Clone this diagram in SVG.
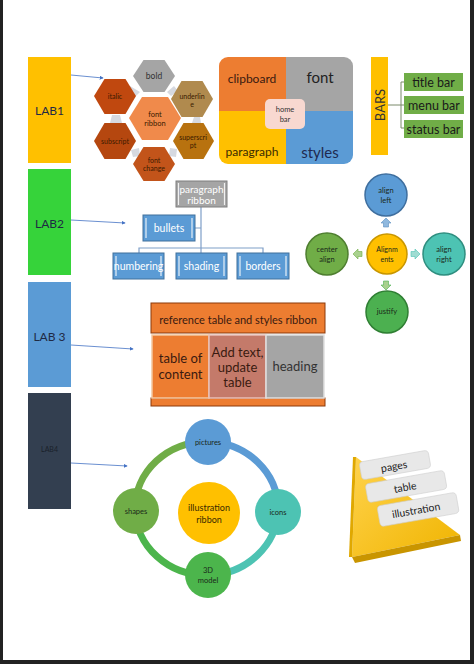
<svg xmlns="http://www.w3.org/2000/svg" width="474" height="664" viewBox="0 0 474 664">
<defs>
<style>
text{font-family:Lato,"Open Sans","Liberation Sans",sans-serif;text-anchor:middle;dominant-baseline:central}
.lab{font-size:12px;fill:#1f2a44}
.hx{font-size:7px;fill:#3a1a00}
.wb{fill:#5b9bd5;stroke:#41719c;stroke-width:1}
.wt{font-size:10.5px;fill:#fff}
.edge{stroke:#fff;stroke-width:1.2;opacity:.85}
.conn{stroke:#4472c4;stroke-width:.8;fill:none}
.tree{stroke:#7f9fc8;stroke-width:1.2;fill:none}
.gb{fill:#70ad47}
.gt{font-size:12.5px;fill:#1a1a1a}
.ct{font-size:7.5px;fill:#1a2a1a}
.cell{stroke:#8c3a0a;stroke-width:1}
.tt{font-size:13px;fill:#3a1a10}
.lbl{fill:#e8e8e8;stroke:#cfcfcf;stroke-width:.6}
.pt{font-size:10.5px;fill:#222}
</style>
<marker id="ah" viewBox="0 0 6 6" refX="5" refY="3" markerWidth="5" markerHeight="5" orient="auto"><path d="M0,0L6,3L0,6z" fill="#4472c4"/></marker>
<linearGradient id="pyr" x1="0" y1="0" x2="1" y2="1"><stop offset="0" stop-color="#ffd34d"/><stop offset="1" stop-color="#f0b400"/></linearGradient>
</defs>
<rect width="474" height="664" fill="#fff"/>
<rect x="0" y="0" width="3" height="664" fill="#222"/>
<rect x="470" y="0" width="4" height="664" fill="#222"/>
<rect x="0" y="660" width="474" height="4" fill="#222"/>

<g id="connectors">
<path class="conn" d="M71,75L103,78" marker-end="url(#ah)"/>
<path class="conn" d="M71,220L125,223" marker-end="url(#ah)"/>
<path class="conn" d="M71,345L133,349" marker-end="url(#ah)"/>
<path class="conn" d="M71,463L127,466" marker-end="url(#ah)"/>
<path class="tree" d="M201,207V248M139,253V248H263V253M201,248V253M195,228H201"/>
<path d="M388,105H401M405,82H401V128H405M401,105H404" stroke="#7a8a6a" stroke-width="1" fill="none"/>
</g>

<g id="lab1"><rect x="28" y="57" width="43" height="106" fill="#ffc000"/><text class="lab" x="49.5" y="110">LAB1</text></g>
<g id="lab2"><rect x="28" y="169" width="43" height="106" fill="#36d33a"/><text class="lab" x="49.5" y="223">LAB2</text></g>
<g id="lab3"><rect x="28" y="282" width="43" height="105" fill="#5b9bd5"/><text class="lab" x="49.5" y="336">LAB 3</text></g>
<g id="lab4"><rect x="28" y="393" width="43" height="116" fill="#333f50"/><text x="49.5" y="449" style="font-size:7px;fill:#1a1f2a">LAB4</text></g>

<g id="hexes">
<path d="M130,86L140,92L136,96L128,91z" fill="#d6d9e0"/>
<path d="M174,86L167,92L171,96L178,91z" fill="#d6d9e0"/>
<path d="M112,115L120,115L122,123L110,123z" fill="#d6d9e0"/>
<path d="M194,117L200,117L201,123L192,123z" fill="#d6d9e0"/>
<path d="M131,150L139,148L140,156L133,157z" fill="#d6d9e0"/>
<path d="M177,149L170,148L169,156L176,157z" fill="#d6d9e0"/>
</g>
<g id="bold"><path d="M133,76L143.5,60H164.5L175,76L164.5,92H143.5z" fill="#a5a5a5"/><text x="154" y="76" style="font-size:8.5px;fill:#333">bold</text></g>
<g id="italic"><path d="M94,96L104.5,79H125.5L136,96L125.5,114H104.5z" fill="#c0480f"/><text class="hx" x="115" y="96">italic</text></g>
<g id="underline"><path d="M171,99L181.5,81H202.5L213,99L202.5,117H181.5z" fill="#b08a4e"/><text class="hx" x="192" y="96">underlin</text><text class="hx" x="192" y="104">e</text></g>
<g id="font-ribbon"><path d="M129,118L142,97H168L181,118L168,140H142z" fill="#f08a4b"/><text x="155" y="114" style="font-size:7.5px;fill:#3a1a00">font</text><text x="155" y="123" style="font-size:7.5px;fill:#3a1a00">ribbon</text></g>
<g id="subscript"><path d="M94,141L104.5,123H125.5L136,141L125.5,159H104.5z" fill="#b5470f"/><text class="hx" x="115" y="141">subscript</text></g>
<g id="superscript"><path d="M173,141L183.5,123H203.5L214,141L203.5,159H183.5z" fill="#b8720f"/><text class="hx" x="193" y="137">superscri</text><text class="hx" x="193" y="145">pt</text></g>
<g id="font-change"><path d="M133,164L143.5,147H164.5L175,164L164.5,181H143.5z" fill="#c2541a"/><text class="hx" x="154" y="160">font</text><text class="hx" x="154" y="168">change</text></g>

<g id="home-bar">
<path d="M228,57H286V111H219V66A9,9 0 0 1 228,57z" fill="#ed7d31"/>
<path d="M286,57H344A9,9 0 0 1 353,66V111H286z" fill="#a5a5a5"/>
<path d="M219,111H286V164H228A9,9 0 0 1 219,155z" fill="#ffc000"/>
<path d="M286,111H353V155A9,9 0 0 1 344,164H286z" fill="#5b9bd5"/>
<text x="252" y="78" style="font-size:12px;fill:#3a1a10">clipboard</text>
<text x="320" y="77" style="font-size:15px;fill:#222">font</text>
<text x="252" y="151" style="font-size:12px;fill:#3a2a00">paragraph</text>
<text x="320" y="152" style="font-size:15px;fill:#1f2a50">styles</text>
<rect x="265" y="99" width="40" height="30" rx="5" fill="#f8d8d0"/>
<text x="285" y="109" style="font-size:7.5px;fill:#333">home</text>
<text x="285" y="119" style="font-size:7.5px;fill:#333">bar</text>
</g>

<g id="bars"><rect x="371" y="57" width="17" height="98" fill="#ffc000"/><text transform="translate(380,105) rotate(-90)" style="font-size:13px;fill:#333">BARS</text></g>
<g id="title-bar"><rect class="gb" x="404" y="73" width="59" height="18"/><text class="gt" x="433.5" y="82">title bar</text></g>
<g id="menu-bar"><rect class="gb" x="404" y="96" width="60" height="18"/><text class="gt" x="434" y="105">menu bar</text></g>
<g id="status-bar"><rect class="gb" x="404" y="120" width="59" height="18"/><text class="gt" x="433.5" y="129">status bar</text></g>

<g id="paragraph-ribbon"><rect x="176" y="181" width="51" height="26" fill="#a5a5a5" stroke="#7f7f7f"/><path class="edge" d="M178.5,183V205M224.5,183V205"/><text class="wt" x="201.5" y="189" style="font-size:10px">paragraph</text><text class="wt" x="201.5" y="200" style="font-size:10px">ribbon</text></g>
<g id="bullets"><rect class="wb" x="143" y="215" width="52" height="26"/><path class="edge" d="M146,218V238M192,218V238"/><text class="wt" x="169" y="228">bullets</text></g>
<g id="numbering"><rect class="wb" x="113" y="253" width="51" height="26"/><path class="edge" d="M116,256V276M161,256V276"/><text class="wt" x="138.5" y="266">numbering</text></g>
<g id="shading"><rect class="wb" x="176" y="253" width="51" height="26"/><path class="edge" d="M179,256V276M224,256V276"/><text class="wt" x="201.5" y="266">shading</text></g>
<g id="borders"><rect class="wb" x="237" y="253" width="52" height="26"/><path class="edge" d="M240,256V276M286,256V276"/><text class="wt" x="263" y="266">borders</text></g>

<g id="align-arrows">
<path d="M386,218L381,223H383.5V227H388.5V223H391z" fill="#8fb8de" stroke="#5b8fbf" stroke-width=".6"/>
<path d="M353,254L358,249V251.5H362V256.5H358V259z" fill="#a9d18e" stroke="#70ad47" stroke-width=".6"/>
<path d="M420,254L415,249V251.5H411V256.5H415V259z" fill="#9fdcd2" stroke="#4dc3b3" stroke-width=".6"/>
<path d="M386,290L381,285H383.5V281H388.5V285H391z" fill="#a9d18e" stroke="#4cb050" stroke-width=".6"/>
</g>
<g id="align-left"><circle cx="386" cy="195" r="21" fill="#5b9bd5" stroke="#3f6f9f" stroke-width="1.5"/><text class="ct" x="386" y="190">align</text><text class="ct" x="386" y="200">left</text></g>
<g id="center-align"><circle cx="327" cy="254" r="21" fill="#70ad47" stroke="#4f7f30" stroke-width="1.5"/><text class="ct" x="327" y="249">center</text><text class="ct" x="327" y="259">align</text></g>
<g id="alignments"><circle cx="387" cy="254" r="20" fill="#ffc000" stroke="#c89600" stroke-width="1.5"/><text class="ct" x="387" y="249" style="font-size:7px">Alignm</text><text class="ct" x="387" y="259" style="font-size:7px">ents</text></g>
<g id="align-right"><circle cx="444" cy="254" r="21" fill="#4dc3b3" stroke="#2f8f80" stroke-width="1.5"/><text class="ct" x="444" y="249">align</text><text class="ct" x="444" y="259">right</text></g>
<g id="justify"><circle cx="387" cy="312" r="21" fill="#4cb050" stroke="#2f7f33" stroke-width="1.5"/><text class="ct" x="387" y="311">justify</text></g>

<g id="ref-table">
<rect class="cell" x="151" y="303" width="174" height="30" fill="#ed7d31"/>
<text x="238" y="319" style="font-size:11px;fill:#3a1a10">reference table and styles ribbon</text>
<rect class="cell" x="151" y="398" width="174" height="8" fill="#ed7d31"/>
</g>
<g id="table-of-content"><rect x="152" y="335" width="57" height="63" fill="#ed7d31" stroke="#f4c7a0" stroke-width="1.5"/><text class="tt" x="180.5" y="358">table of</text><text class="tt" x="180.5" y="374">content</text></g>
<g id="add-text"><rect x="209" y="335" width="57" height="63" fill="#c47a6a" stroke="#e8c0b8" stroke-width="1.5"/><text class="tt" x="237.5" y="352">Add text,</text><text class="tt" x="237.5" y="367">update</text><text class="tt" x="237.5" y="382">table</text></g>
<g id="heading"><rect x="266" y="335" width="58" height="63" fill="#a5a5a5" stroke="#e0e0e0" stroke-width="1.5"/><text class="tt" x="295" y="366" style="fill:#333">heading</text></g>

<g id="cycle-ring" fill="none" stroke-width="7">
<path d="M135,509A71,67 0 0 1 208,442" stroke="#70ad47"/>
<path d="M208,442A71,67 0 0 1 278,509" stroke="#5b9bd5"/>
<path d="M278,509A71,67 0 0 1 208,575" stroke="#4dc3b3"/>
<path d="M208,575A71,67 0 0 1 135,509" stroke="#4cb54c"/>
</g>
<g id="pictures"><circle cx="208" cy="442" r="23" fill="#5b9bd5"/><text class="ct" x="208" y="442">pictures</text></g>
<g id="icons"><circle cx="278" cy="512" r="23" fill="#4dc3b3"/><text class="ct" x="278" y="512">icons</text></g>
<g id="model-3d"><circle cx="208" cy="575" r="23" fill="#4cb54c"/><text class="ct" x="208" y="570">3D</text><text class="ct" x="208" y="580">model</text></g>
<g id="shapes"><circle cx="136" cy="511" r="23" fill="#70ad47"/><text class="ct" x="136" y="511">shapes</text></g>
<g id="illustration-ribbon"><circle cx="209" cy="513" r="31" fill="#ffc000"/><text x="209" y="507" style="font-size:9px;fill:#3a2a00">illustration</text><text x="209" y="519" style="font-size:9px;fill:#3a2a00">ribbon</text></g>

<g id="pyramid">
<path d="M356,457L460,535L352,557z" fill="url(#pyr)"/>
<path d="M352,557L460,535L461,541L355,563z" fill="#c99500"/>
<path d="M356,457L352,557L349,557L353,457z" fill="#e0a800"/>
</g>
<g id="pages"><rect class="lbl" x="360" y="456" width="70" height="18" rx="4" transform="rotate(-10 395 465)"/><text class="pt" x="394" y="466" transform="rotate(-10 394 466)">pages</text></g>
<g id="table"><rect class="lbl" x="366" y="477" width="80" height="19" rx="4" transform="rotate(-10 406 486)"/><text class="pt" x="405" y="487" transform="rotate(-10 405 487)">table</text></g>
<g id="illustration"><rect class="lbl" x="378" y="499" width="80" height="21" rx="4" transform="rotate(-10 418 509)"/><text class="pt" x="416" y="510" transform="rotate(-10 416 510)">illustration</text></g>
</svg>
